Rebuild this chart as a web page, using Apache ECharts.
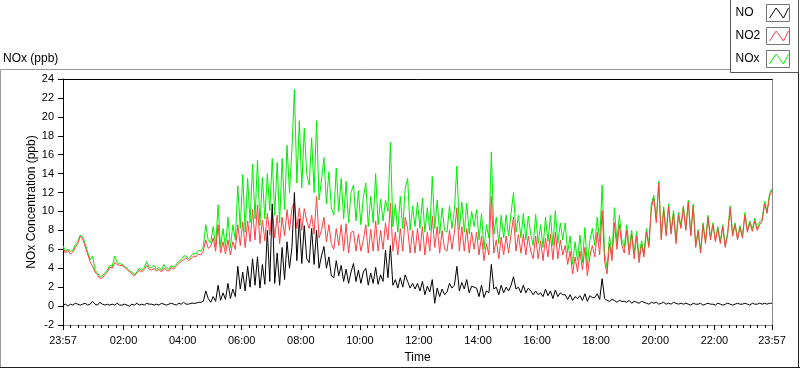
<!DOCTYPE html>
<html><head><meta charset="utf-8">
<script src="https://cdn.jsdelivr.net/npm/echarts@6/dist/echarts.min.js"></script>
<style>html,body{margin:0;padding:0;background:#fff}#c{width:800px;height:369px}</style>
</head><body><div id="c"></div>
<script>
// Sampling: one reading every 5 minutes, starting 23:57 (minutes relative to midnight)
const startMinute = -3;
const stepMinutes = 5;

const no = [
0.1,0.2,0.0,0.2,0.1,0.3,0.2,0.1,0.2,0.3,0.1,0.2,
0.5,0.2,0.1,0.4,0.2,0.1,0.2,0.1,0.2,0.1,0.3,0.1,
0.1,0.2,0.1,0.0,0.2,0.1,0.3,0.1,0.2,0.1,0.3,0.2,
0.2,0.1,0.2,0.1,0.3,0.2,0.1,0.2,0.3,0.2,0.1,0.3,
0.2,0.4,0.2,0.2,0.3,0.3,0.3,0.4,0.4,0.5,1.6,0.8,
0.4,1.0,0.5,2.2,0.6,1.4,0.7,2.4,0.8,1.8,1.0,4.2,
1.8,3.6,1.6,4.2,2.0,5.0,2.2,5.2,1.9,4.4,2.3,8.0,
2.6,10.8,2.4,5.6,2.2,6.2,2.8,6.8,4.0,6.2,12.0,4.8,
9.2,4.5,8.5,5.0,4.6,8.2,4.4,8.0,4.0,5.3,6.3,4.0,
5.2,3.2,3.0,4.8,3.2,4.3,2.6,3.9,2.4,3.6,4.5,2.6,
3.8,2.4,3.6,4.0,2.2,3.5,2.4,4.1,2.3,3.3,2.6,5.9,
3.0,6.4,2.2,2.8,1.9,3.0,2.0,3.3,2.6,1.9,2.4,1.8,
2.4,1.6,2.6,1.2,2.1,1.5,2.8,0.3,1.9,1.0,1.8,1.2,
1.5,2.4,1.9,2.2,4.2,1.6,2.5,1.8,2.8,1.4,2.1,2.0,
1.9,1.0,2.2,0.9,1.6,1.4,4.4,1.8,2.0,1.2,2.2,1.4,
2.0,1.6,2.2,3.1,1.8,2.0,1.4,2.2,1.4,1.9,1.6,1.2,
1.6,1.2,1.4,1.0,1.8,1.1,1.6,0.8,1.7,1.0,1.4,1.2,
1.2,0.7,1.2,0.6,1.0,0.8,1.1,0.6,1.3,0.5,1.1,0.9,
0.9,1.3,0.7,2.9,0.8,0.6,0.5,0.7,0.6,0.4,0.6,0.5,
0.5,0.4,0.6,0.3,0.5,0.4,0.3,0.5,0.4,0.3,0.2,0.4,
0.3,0.4,0.2,0.3,0.4,0.2,0.3,0.2,0.4,0.3,0.2,0.3,
0.2,0.3,0.2,0.1,0.3,0.2,0.2,0.3,0.1,0.2,0.3,0.2,
0.2,0.1,0.3,0.2,0.1,0.2,0.3,0.2,0.1,0.2,0.3,0.2,
0.2,0.3,0.2,0.1,0.3,0.2,0.2,0.3,0.2,0.3,0.2,0.3,0.3
];

const no2 = [
6.1,5.6,5.9,5.5,5.7,6.2,6.6,7.4,7.1,6.3,5.5,4.7,
4.2,3.6,3.3,2.9,3.0,3.3,3.6,4.1,4.0,4.6,4.4,4.3,
4.3,4.1,3.9,3.6,3.4,3.2,3.5,3.8,3.6,3.9,4.3,3.9,
3.8,4.0,3.7,3.9,3.6,4.0,3.8,3.7,4.1,3.9,4.2,4.5,
4.7,4.9,5.1,4.8,5.0,5.3,5.2,5.5,5.4,5.8,7.0,6.1,
6.3,7.2,5.8,8.6,5.6,6.8,5.5,7.0,5.4,6.8,6.0,8.6,
6.4,8.9,6.2,9.0,6.8,10.2,7.0,10.7,6.6,9.1,6.9,9.8,
7.5,10.3,7.2,9.6,6.6,9.4,7.4,10.2,8.0,10.4,10.9,8.2,
10.4,8.0,10.3,9.0,8.2,9.6,7.6,11.6,7.2,8.0,9.4,6.8,
8.6,6.6,6.0,8.2,6.4,8.6,5.8,8.7,5.6,7.8,7.9,5.8,
7.6,5.8,7.0,8.6,5.6,8.1,5.8,9.0,5.8,8.0,6.0,8.8,
7.0,10.9,5.8,7.8,5.4,8.2,5.8,9.4,8.2,5.6,8.0,5.6,
8.2,5.8,8.4,5.4,7.8,5.8,9.5,6.2,8.4,5.6,8.0,6.0,
5.8,8.0,6.0,7.8,10.4,5.8,8.4,5.8,8.2,5.6,7.8,6.0,
7.8,5.4,7.4,4.8,6.6,5.4,11.6,5.6,7.0,5.0,7.3,5.4,
7.4,5.6,7.6,9.4,5.8,7.6,5.6,7.6,5.4,7.4,5.8,5.0,
7.4,5.0,6.9,4.8,7.2,5.2,7.6,4.9,7.8,5.0,7.0,5.4,
6.4,4.4,5.8,3.4,5.2,3.6,5.8,3.8,6.2,3.2,5.2,6.4,
5.2,7.8,5.4,10.1,4.7,3.4,6.6,4.8,8.8,6.0,8.6,6.4,
5.6,8.0,5.4,7.6,5.0,7.4,4.6,6.5,5.2,7.8,6.2,10.4,
11.4,8.8,13.0,7.0,10.2,7.4,10.5,7.6,9.8,6.6,9.6,8.2,
10.4,8.0,11.0,7.4,10.6,6.2,7.9,5.6,8.6,6.6,9.4,7.0,
8.6,6.8,8.2,6.6,8.4,6.2,7.6,10.4,7.4,8.6,7.0,8.3,
7.2,9.6,7.8,8.8,7.9,9.0,8.0,8.6,9.0,10.8,9.8,11.6,12.2
];

const nox = [
6.4,5.8,6.0,5.8,5.9,6.5,6.8,7.5,7.3,6.6,5.7,4.9,
5.3,3.8,3.5,3.1,3.2,3.5,3.8,4.3,4.2,5.3,4.6,4.5,
4.4,4.2,4.0,3.7,3.6,3.3,3.6,4.0,3.8,4.1,4.7,4.1,
4.1,4.3,3.9,4.1,3.8,4.4,4.0,3.9,4.3,4.1,4.4,4.7,
4.9,5.3,5.3,5.0,5.3,5.6,5.5,5.9,5.8,6.3,8.6,6.9,
6.7,8.4,6.3,10.7,6.2,8.2,6.2,9.4,6.2,8.6,7.0,12.7,
8.2,13.9,7.8,13.5,8.8,15.0,9.2,15.4,8.5,13.6,9.2,14.0,
10.1,15.6,9.6,15.2,8.8,15.6,10.2,17.0,12.0,16.6,22.9,13.0,
19.6,12.5,18.8,14.0,12.8,17.8,12.0,19.6,11.2,13.3,15.7,10.8,
14.2,10.4,9.6,14.6,10.0,13.5,9.2,13.2,8.8,12.0,12.8,9.0,
12.2,8.6,11.5,13.0,8.4,11.6,8.8,14.0,8.6,11.3,9.0,11.2,
10.0,17.3,8.4,10.8,7.8,11.6,8.2,12.5,13.5,8.0,10.6,8.4,
11.0,8.2,11.4,7.8,10.4,8.0,13.7,8.2,11.2,7.6,10.4,8.0,
7.8,10.6,8.2,10.2,14.8,8.0,11.0,7.8,10.9,7.6,10.0,8.4,
10.2,7.0,9.8,6.0,8.6,7.2,16.3,7.6,9.4,6.6,9.6,7.2,
9.6,7.4,9.8,12.0,7.8,9.6,7.2,9.8,7.0,9.5,7.6,6.4,
9.7,6.6,8.6,6.2,9.4,6.8,9.6,6.4,10.1,6.6,8.8,7.0,
8.8,5.6,7.4,4.4,6.8,4.8,7.5,4.6,8.3,4.2,6.9,8.2,
6.4,9.4,6.8,12.8,5.6,4.0,7.4,5.4,10.4,6.8,9.6,7.0,
6.2,8.6,6.0,8.0,5.6,7.9,5.2,6.9,5.6,8.2,6.5,10.8,
11.7,9.1,13.2,7.3,10.5,7.7,10.8,7.9,10.1,6.9,9.9,8.5,
10.6,8.2,11.2,7.6,10.8,6.4,8.1,5.8,8.8,6.8,9.6,7.2,
8.8,7.0,8.4,6.8,8.6,6.4,7.8,10.6,7.6,8.8,7.2,8.5,
7.4,9.9,8.0,9.0,8.1,9.3,8.2,8.9,9.2,11.1,10.0,11.9,12.4
];

const seriesNames = ['NO', 'NO2', 'NOx'];
const majorTickMinutes = [-3, 120, 240, 360, 480, 600, 720, 840, 960, 1080, 1200, 1320, 1437];
const majorTickLabels = ['23:57','02:00','04:00','06:00','08:00','10:00','12:00','14:00','16:00','18:00','20:00','22:00','23:57'];
const yMin = -2, yMax = 24, yStep = 2;

const FONT = '"Liberation Sans", Arial, sans-serif';
function pairs(arr) { return arr.map((v, i) => [startMinute + i * stepMinutes, v]); }
const minorTicks = [];
for (let k = 0; k < majorTickMinutes.length - 1; k++) {
  const a = majorTickMinutes[k], b = majorTickMinutes[k + 1];
  for (let j = 1; j < 8; j++) minorTicks.push(a + (b - a) * j / 8);
}
const xMin = majorTickMinutes[0], xMax = majorTickMinutes[majorTickMinutes.length - 1];
const zig = 'path://M0,10 L6.7,0 L14,10 L19,0';

const chart = echarts.init(document.getElementById('c'), null, {renderer: 'canvas'});
chart.setOption({
  animation: false,
  backgroundColor: '#fff',
  textStyle: {fontFamily: FONT},
  title: {text: 'NOx (ppb)', left: 3, top: 53, padding: 0,
    textStyle: {fontSize: 12, fontWeight: 'normal', color: '#000', fontFamily: FONT}},
  graphic: [
    {type: 'line', z: 0, silent: true, shape: {x1: 0.5, y1: 69.5, x2: 731, y2: 69.5}, style: {stroke: '#9a9a9a', lineWidth: 1}},
    {type: 'line', z: 0, silent: true, shape: {x1: 0.5, y1: 69.5, x2: 0.5, y2: 368}, style: {stroke: '#9a9a9a', lineWidth: 1}},
    {type: 'line', z: 0, silent: true, shape: {x1: 0, y1: 367.5, x2: 800, y2: 367.5}, style: {stroke: '#222', lineWidth: 1}},
    {type: 'line', z: 0, silent: true, shape: {x1: 798.5, y1: 70, x2: 798.5, y2: 368}, style: {stroke: '#222', lineWidth: 1}},
    {type: 'rect', z: 1, silent: true, shape: {x: 730.5, y: -1, width: 68, height: 73.5}, style: {fill: '#fff', stroke: '#555', lineWidth: 1}},
    {type: 'rect', z: 2, silent: true, shape: {x: 766.5, y: 4.5, width: 23, height: 17}, style: {fill: '#fff', stroke: '#777', lineWidth: 1}},
    {type: 'rect', z: 2, silent: true, shape: {x: 766.5, y: 27.5, width: 23, height: 17}, style: {fill: '#fff', stroke: '#777', lineWidth: 1}},
    {type: 'rect', z: 2, silent: true, shape: {x: 766.5, y: 50.5, width: 23, height: 17}, style: {fill: '#fff', stroke: '#777', lineWidth: 1}}
  ],
  legend: {
    z: 10, orient: 'vertical', right: 11, top: 7, padding: 0,
    itemWidth: 19, itemHeight: 10, itemGap: 11, align: 'right', selectedMode: false,
    formatter: '{n|{name}}',
    textStyle: {fontSize: 12, color: '#000', fontFamily: FONT,
      rich: {n: {width: 29, align: 'left', fontSize: 12, color: '#000', fontFamily: FONT}}},
    data: [
      {name: 'NO', icon: zig, itemStyle: {color: 'rgba(0,0,0,0)', borderColor: '#000', borderWidth: 1}},
      {name: 'NO2', icon: zig, itemStyle: {color: 'rgba(0,0,0,0)', borderColor: '#ff4040', borderWidth: 1}},
      {name: 'NOx', icon: zig, itemStyle: {color: 'rgba(0,0,0,0)', borderColor: '#00ee00', borderWidth: 1}}
    ]
  },
  grid: {left: 63, right: 28, top: 79, height: 250, containLabel: false},
  xAxis: [
    {type: 'value', min: xMin, max: xMax, position: 'bottom',
      name: 'Time', nameLocation: 'middle', nameGap: 27, nameMoveOverlap: false,
      nameTextStyle: {fontSize: 12, color: '#000', fontFamily: FONT},
      axisLine: {show: true, onZero: false, lineStyle: {color: '#8c8c8c', width: 1}},
      axisTick: {show: true, customValues: majorTickMinutes, length: 5, lineStyle: {color: '#000'}},
      axisLabel: {customValues: majorTickMinutes, margin: 10, fontSize: 11, color: '#000', fontFamily: FONT,
        formatter: v => { const k = majorTickMinutes.indexOf(v); return k >= 0 ? majorTickLabels[k] : ''; }},
      splitLine: {show: false}},
    {type: 'value', min: xMin, max: xMax, position: 'bottom',
      axisLine: {show: false, onZero: false},
      axisTick: {show: true, customValues: minorTicks, length: 3, lineStyle: {color: '#000'}},
      axisLabel: {show: false}, splitLine: {show: false}},
    {type: 'value', min: xMin, max: xMax, position: 'top',
      axisLine: {show: true, onZero: false, lineStyle: {color: '#000', width: 1}},
      axisTick: {show: false}, axisLabel: {show: false}, splitLine: {show: false}}
  ],
  yAxis: [
    {type: 'value', min: yMin, max: yMax, interval: yStep, position: 'left',
      name: 'NOx Concentration (ppb)', nameLocation: 'middle', nameGap: 25, nameMoveOverlap: false,
      nameTextStyle: {fontSize: 12, color: '#000', fontFamily: FONT},
      axisLine: {show: true, onZero: false, lineStyle: {color: '#000', width: 1}},
      axisTick: {show: true, length: 5, lineStyle: {color: '#000'}},
      axisLabel: {margin: 9, fontSize: 11, color: '#000', fontFamily: FONT, showMinLabel: true, showMaxLabel: true},
      splitLine: {show: false}},
    {type: 'value', min: yMin, max: yMax, interval: yStep, position: 'right',
      axisLine: {show: true, onZero: false, lineStyle: {color: '#8c8c8c', width: 1}},
      axisTick: {show: false}, axisLabel: {show: false}, splitLine: {show: false}}
  ],
  series: [
    {name: seriesNames[2], type: 'line', xAxisIndex: 0, yAxisIndex: 0, data: pairs(nox), showSymbol: false, symbol: 'none',
      lineStyle: {color: '#00ee00', width: 1}, itemStyle: {color: '#00ee00'}},
    {name: seriesNames[1], type: 'line', xAxisIndex: 0, yAxisIndex: 0, data: pairs(no2), showSymbol: false, symbol: 'none',
      lineStyle: {color: '#ff4040', width: 1}, itemStyle: {color: '#ff4040'}},
    {name: seriesNames[0], type: 'line', xAxisIndex: 0, yAxisIndex: 0, data: pairs(no), showSymbol: false, symbol: 'none',
      lineStyle: {color: '#000', width: 1}, itemStyle: {color: '#000'}}
  ]
});
</script></body></html>
